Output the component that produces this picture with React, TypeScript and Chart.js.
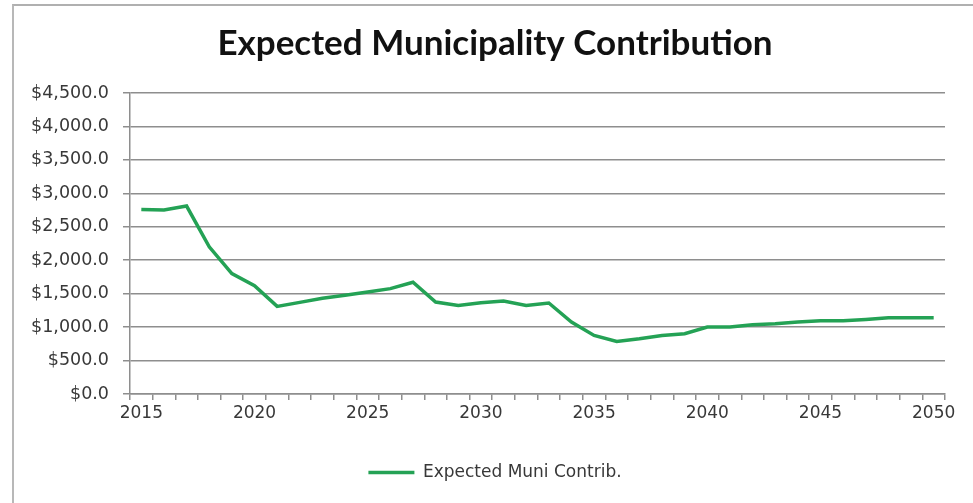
import React, { useEffect, useRef } from "react";
import { Chart, registerables } from "chart.js";

Chart.register(...registerables);

const years: string[] = [
  "2015", "2016", "2017", "2018", "2019", "2020", "2021", "2022", "2023", "2024",
  "2025", "2026", "2027", "2028", "2029", "2030", "2031", "2032", "2033", "2034",
  "2035", "2036", "2037", "2038", "2039", "2040", "2041", "2042", "2043", "2044",
  "2045", "2046", "2047", "2048", "2049", "2050",
];

const muniContrib: number[] = [
  2760, 2750, 2810, 2200, 1800, 1620, 1310, 1370, 1430, 1475,
  1525, 1575, 1670, 1375, 1325, 1365, 1390, 1325, 1360, 1075,
  875, 785, 825, 875, 900, 1000, 1000, 1035, 1050, 1075,
  1095, 1095, 1115, 1140, 1140, 1140,
];

const seriesLabel = "Expected Muni Contrib.";
const chartTitle = "Expected Municipality Contribution";
const yTicks: number[] = [0, 500, 1000, 1500, 2000, 2500, 3000, 3500, 4000, 4500];

export default function App() {
  const ref = useRef<HTMLCanvasElement | null>(null);

  useEffect(() => {
    if (!ref.current) return;
    const gridColor = "#8e8e8e";
    const textColor = "#383838";
    const chart = new Chart(ref.current, {
      type: "line",
      data: {
        labels: years,
        datasets: [
          {
            label: seriesLabel,
            data: muniContrib,
            borderColor: "#24a255",
            backgroundColor: "#24a255",
            borderWidth: 3.5,
            pointRadius: 0,
            tension: 0,
          },
        ],
      },
      options: {
        animation: false,
        responsive: false,
        devicePixelRatio: 1,
        layout: { padding: { left: 17, right: 0, top: 20, bottom: 12 } },
        plugins: {
          title: {
            display: true,
            text: chartTitle,
            color: "#111111",
            font: { family: "Lato", size: 35, weight: "bold" },
            padding: { top: 3, bottom: 28 },
          },
          legend: {
            display: true,
            position: "bottom",
            labels: {
              usePointStyle: true,
              pointStyle: "line",
              pointStyleWidth: 46,
              boxHeight: 17,
              padding: 10,
              color: textColor,
              font: { family: "DejaVu Sans", size: 17 },
            },
          },
          tooltip: { enabled: false },
        },
        scales: {
          x: {
            type: "category",
            offset: true,
            grid: {
              offset: true,
              drawOnChartArea: false,
              drawTicks: true,
              tickLength: 6,
              color: gridColor,
              lineWidth: 1.5,
            },
            border: { display: true, color: gridColor, width: 1.5 },
            ticks: {
              autoSkip: false,
              maxRotation: 0,
              padding: 3,
              color: textColor,
              font: { family: "DejaVu Sans", size: 17 },
              callback: (_v: any, i: number) => (i % 5 === 0 ? years[i] : ""),
            },
            afterFit: (scale: any) => {
              scale.height = 60;
            },
          },
          y: {
            min: 0,
            max: 4500,
            afterBuildTicks: (scale: any) => {
              scale.ticks = yTicks.map((v) => ({ value: v }));
            },
            grid: {
              drawTicks: true,
              tickLength: 7,
              color: gridColor,
              lineWidth: 1.5,
            },
            border: { display: true, color: gridColor, width: 1.5 },
            ticks: {
              padding: 14,
              color: textColor,
              font: { family: "DejaVu Sans", size: 17.5 },
              callback: (v: any) =>
                "$" +
                Number(v).toLocaleString("en-US", {
                  minimumFractionDigits: 1,
                  maximumFractionDigits: 1,
                }),
            },
            afterFit: (scale: any) => {
              scale.width = 113;
            },
          },
          spacer: {
            type: "linear",
            position: "right",
            display: true,
            grid: { display: false, drawTicks: false },
            border: { display: false },
            ticks: { display: false },
            afterFit: (scale: any) => {
              scale.width = 28;
            },
          },
        },
      },
    });
    return () => chart.destroy();
  }, []);

  return (
    <div
      style={{
        position: "absolute",
        left: 0,
        top: 0,
        width: 973,
        height: 503,
        overflow: "hidden",
        background: "#ffffff",
      }}
    >
      <div
        style={{
          position: "absolute",
          left: 12,
          top: 4,
          width: 980,
          height: 520,
          borderLeft: "2px solid #b8b8b8",
          borderTop: "2px solid #b0b0b0",
        }}
      />
      <canvas
        ref={ref}
        width={973}
        height={503}
        style={{ position: "absolute", left: 0, top: 0, width: 973, height: 503 }}
      />
    </div>
  );
}
